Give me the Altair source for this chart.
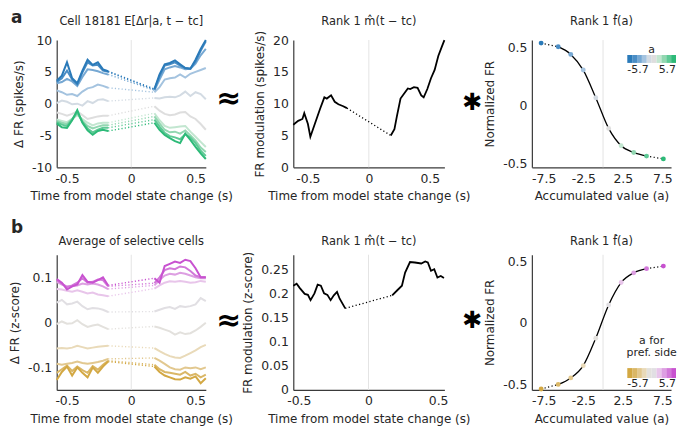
import altair as alt
import pandas as pd

FONT = "DejaVu Sans"
INK = "#262626"
X_TITLE = "Time from model state change (s)"

# ---------------- colours (10 bins of a) ----------------
BLUE_GREEN = ["#2a7ab9", "#4a8dc5", "#76a8d3", "#a4c3df", "#d3dbe3",
              "#dedede", "#c2e6d0", "#92d7b1", "#5ec995", "#2dba78"]
TAN_MAGENTA = ["#d3a843", "#dab766", "#e2c88f", "#e9dab9", "#e3e1dd",
               "#e1dfe3", "#e8c5ea", "#dd9fe2", "#d278d9", "#c852d0"]

# ---------------- panel a1: cell 18181 ----------------
A1_T_LEFT = [-0.58, -0.54, -0.50, -0.46, -0.42, -0.38, -0.34, -0.30, -0.26, -0.22, -0.18]
A1_T_RIGHT = [0.18, 0.22, 0.26, 0.30, 0.34, 0.38, 0.42, 0.46, 0.50, 0.54, 0.58]
A1_LEFT = [
    [3.6, 4.4, 6.5, 4.0, 3.2, 5.2, 6.9, 6.1, 6.5, 5.4, 5.1],
    [3.4, 4.0, 5.2, 3.8, 3.0, 4.9, 6.5, 6.0, 6.1, 5.2, 5.0],
    [3.2, 3.4, 3.9, 3.5, 2.8, 4.2, 5.4, 5.3, 5.1, 4.8, 4.6],
    [2.1, 1.8, 1.4, 1.5, 1.2, 1.9, 2.4, 2.6, 3.0, 2.8, 2.5],
    [0.1, 0.5, 0.3, -0.1, 0.0, -0.3, 0.4, 0.1, 0.6, 0.7, 0.4],
    [-1.4, -1.6, -1.9, -1.6, -1.2, -1.8, -2.4, -2.2, -2.0, -1.9, -1.9],
    [-2.5, -2.7, -2.9, -2.4, -1.8, -2.4, -3.0, -3.4, -3.1, -3.0, -3.0],
    [-2.7, -3.0, -3.2, -2.4, -1.5, -2.7, -3.5, -3.9, -3.6, -3.4, -3.4],
    [-2.9, -3.3, -3.5, -2.5, -1.3, -2.9, -3.9, -4.5, -4.1, -3.8, -3.8],
    [-3.1, -3.7, -3.8, -2.6, -1.0, -3.0, -4.2, -4.9, -4.3, -4.1, -4.3],
]
A1_RIGHT = [
    [2.3, 4.6, 6.2, 6.4, 6.8, 6.2, 5.6, 5.5, 6.9, 8.6, 10.0],
    [2.2, 4.3, 6.0, 6.2, 6.5, 6.0, 5.6, 5.5, 6.6, 8.3, 9.8],
    [2.1, 3.8, 5.4, 5.7, 5.9, 5.7, 5.4, 5.5, 6.3, 7.6, 8.6],
    [1.8, 2.6, 3.8, 4.0, 4.1, 4.6, 4.1, 4.7, 5.0, 5.3, 5.6],
    [0.9, 0.8, 1.0, 1.1, 1.0, 1.3, 1.9, 1.2, 1.8, 1.5, 0.7],
    [-0.4, -1.1, -1.6, -1.8, -1.7, -1.4, -1.3, -2.0, -2.4, -3.2, -4.1],
    [-1.5, -2.6, -3.5, -3.8, -3.7, -3.6, -3.5, -4.4, -5.2, -6.0, -6.8],
    [-2.0, -3.1, -4.1, -4.5, -4.4, -4.7, -4.2, -5.0, -5.8, -6.9, -7.6],
    [-2.5, -3.6, -4.6, -5.1, -5.3, -5.6, -4.8, -5.3, -6.2, -7.4, -8.2],
    [-3.0, -4.1, -4.9, -5.4, -5.9, -6.2, -4.7, -5.7, -6.8, -7.8, -8.7],
]

# ---------------- panel a2: rank-1 time course ----------------
A2_T_LEFT = [-0.62, -0.58, -0.545, -0.53, -0.50, -0.48, -0.44, -0.40, -0.365,
             -0.345, -0.31, -0.28, -0.25, -0.21, -0.18]
A2_LEFT = [6.7, 7.3, 7.6, 8.5, 6.8, 4.8, 7.0, 9.2, 11.0, 10.8, 11.3, 10.3, 9.9, 9.6, 9.3]
A2_T_RIGHT = [0.18, 0.21, 0.23, 0.26, 0.29, 0.32, 0.34, 0.37, 0.40, 0.43, 0.45,
              0.48, 0.51, 0.54, 0.57, 0.60, 0.62]
A2_RIGHT = [5.0, 6.0, 8.0, 10.8, 11.6, 12.4, 12.3, 12.6, 12.5, 11.3, 11.0,
            12.3, 14.0, 15.3, 17.5, 19.0, 20.0]

# ---------------- panel a3 / b3: rank-1 tuning ----------------
F_A = [-7.83, -5.67, -4.08, -2.50, -0.92, 0.71, 2.29, 3.88, 5.50, 7.63]
A3_F = [0.534, 0.503, 0.437, 0.303, 0.066, -0.197, -0.345, -0.403, -0.434, -0.458]
B3_F = [-0.537, -0.500, -0.447, -0.347, -0.124, 0.147, 0.329, 0.408, 0.442, 0.463]
CBAR_LABELS = ["-5.7", "5.7"]

# ---------------- panel b1: average of selective cells ----------------
B1_T_LEFT = A1_T_LEFT
B1_T_RIGHT = A1_T_RIGHT
B1_LEFT = [
    [-0.128, -0.110, -0.098, -0.118, -0.100, -0.112, -0.122, -0.100, -0.112, -0.098, -0.087],
    [-0.112, -0.104, -0.096, -0.108, -0.098, -0.106, -0.112, -0.097, -0.105, -0.094, -0.085],
    [-0.092, -0.094, -0.092, -0.090, -0.087, -0.090, -0.092, -0.090, -0.088, -0.085, -0.081],
    [-0.058, -0.057, -0.058, -0.056, -0.052, -0.055, -0.058, -0.056, -0.054, -0.053, -0.052],
    [-0.004, 0.002, -0.003, -0.002, 0.005, -0.004, -0.010, -0.007, -0.005, -0.010, -0.015],
    [0.044, 0.050, 0.040, 0.042, 0.046, 0.036, 0.029, 0.032, 0.031, 0.028, 0.023],
    [0.074, 0.073, 0.070, 0.068, 0.071, 0.068, 0.064, 0.066, 0.062, 0.060, 0.058],
    [0.090, 0.084, 0.080, 0.080, 0.082, 0.086, 0.084, 0.086, 0.084, 0.080, 0.074],
    [0.094, 0.086, 0.078, 0.082, 0.088, 0.098, 0.088, 0.090, 0.095, 0.094, 0.080],
    [0.096, 0.088, 0.073, 0.080, 0.084, 0.105, 0.090, 0.088, 0.094, 0.100, 0.082],
]
B1_RIGHT = [
    [-0.098, -0.110, -0.118, -0.122, -0.126, -0.127, -0.122, -0.125, -0.120, -0.135, -0.124],
    [-0.094, -0.104, -0.110, -0.112, -0.114, -0.116, -0.110, -0.118, -0.114, -0.122, -0.116],
    [-0.079, -0.085, -0.092, -0.100, -0.104, -0.105, -0.100, -0.102, -0.100, -0.104, -0.100],
    [-0.057, -0.064, -0.070, -0.075, -0.078, -0.079, -0.074, -0.068, -0.062, -0.055, -0.050],
    [-0.009, -0.012, -0.016, -0.020, -0.027, -0.022, -0.026, -0.024, -0.018, -0.010, -0.001],
    [0.024, 0.028, 0.032, 0.034, 0.030, 0.036, 0.034, 0.036, 0.040, 0.054, 0.047],
    [0.075, 0.082, 0.088, 0.091, 0.090, 0.092, 0.090, 0.088, 0.089, 0.092, 0.090],
    [0.082, 0.094, 0.104, 0.108, 0.106, 0.110, 0.108, 0.104, 0.100, 0.098, 0.098],
    [0.087, 0.100, 0.116, 0.120, 0.118, 0.124, 0.122, 0.114, 0.104, 0.100, 0.100],
    [0.098, 0.088, 0.125, 0.130, 0.135, 0.132, 0.139, 0.136, 0.120, 0.100, 0.100],
]

# ---------------- panel b2: rank-1 time course (z-score) ----------------
B2_T_LEFT = [-0.54, -0.516, -0.493, -0.458, -0.435, -0.416, -0.388, -0.365, -0.342,
             -0.319, -0.295, -0.272, -0.249, -0.226, -0.207, -0.167]
B2_LEFT = [0.216, 0.220, 0.211, 0.199, 0.197, 0.186, 0.200, 0.218, 0.216,
           0.200, 0.197, 0.186, 0.196, 0.203, 0.189, 0.169]
B2_T_RIGHT = [0.17, 0.205, 0.24, 0.263, 0.298, 0.333, 0.379, 0.407, 0.426,
              0.449, 0.472, 0.495, 0.519, 0.542]
B2_RIGHT = [0.196, 0.206, 0.216, 0.243, 0.265, 0.264, 0.262, 0.266, 0.264,
            0.247, 0.250, 0.233, 0.236, 0.232]


# ================= helpers =================
def num_axis(values, title):
    return alt.Axis(values=values, title=title, format=".3~r",
                    labelExpr="replace(datum.label, '\u2212', '-')")


def text_layer(txt, x, y, **kw):
    style = dict(font=FONT, color=INK)
    style.update(kw)
    return alt.Chart(pd.DataFrame({"txt": [txt]})).mark_text(**style).encode(
        text="txt:N", x=alt.value(x), y=alt.value(y))


def traces_panel(t_left, t_right, left, right, colors, field, xdom, ydom, yvals, ytitle,
                 title, title_y, letter, letter_y, w, h):
    order = [4, 5, 3, 6, 2, 7, 1, 8, 0, 9]
    solid, dots = [], []
    for i in order:
        for t, v in zip(t_left, left[i]):
            solid.append({field: i, "seg": f"{i}L", "t": t, "v": v})
        for t, v in zip(t_right, right[i]):
            solid.append({field: i, "seg": f"{i}R", "t": t, "v": v})
        dots.append({field: i, "t": t_left[-1], "v": left[i][-1]})
        dots.append({field: i, "t": t_right[0], "v": right[i][0]})
    solid = pd.DataFrame(solid)
    dots = pd.DataFrame(dots)
    x = alt.X("t:Q", scale=alt.Scale(domain=xdom, nice=False, zero=False),
              axis=num_axis([-0.5, 0, 0.5], X_TITLE))
    y = alt.Y("v:Q", scale=alt.Scale(domain=ydom, nice=False, zero=False),
              axis=num_axis(yvals, ytitle))
    color = alt.Color(f"{field}:N", scale=alt.Scale(domain=list(range(10)), range=colors),
                      legend=None)
    zero = alt.Chart(pd.DataFrame({"t": [0.0]})).mark_rule(
        color="#e4e4e4", strokeWidth=1).encode(x=x)
    lines = alt.Chart(solid).mark_line(strokeWidth=2).encode(
        x=x, y=y, color=color, detail="seg:N")
    dotted = alt.Chart(dots).mark_line(strokeWidth=1.4, strokeDash=[1.2, 2.2]).encode(
        x=x, y=y, color=color, detail=f"{field}:N")
    return alt.layer(
        zero, dotted, lines,
        text_layer(title, w / 2, title_y, fontSize=11.5, align="center", baseline="middle"),
        text_layer(letter, -46, letter_y, fontSize=17, fontWeight="bold",
                   align="left", baseline="middle"),
    ).properties(width=w, height=h)


def rank_time_panel(t_left, left, t_right, right, xdom, ydom, yvals, ytitle,
                    title, title_y, approx_y, w, h):
    rows = [{"seg": "L", "t": t, "v": v} for t, v in zip(t_left, left)]
    rows += [{"seg": "R", "t": t, "v": v} for t, v in zip(t_right, right)]
    solid = pd.DataFrame(rows)
    dots = pd.DataFrame({"t": [t_left[-1], t_right[0]], "v": [left[-1], right[0]]})
    x = alt.X("t:Q", scale=alt.Scale(domain=xdom, nice=False, zero=False),
              axis=num_axis([-0.5, 0, 0.5], X_TITLE))
    y = alt.Y("v:Q", scale=alt.Scale(domain=ydom, nice=False, zero=False),
              axis=num_axis(yvals, ytitle))
    zero = alt.Chart(pd.DataFrame({"t": [0.0]})).mark_rule(
        color="#e4e4e4", strokeWidth=1).encode(x=x)
    line = alt.Chart(solid).mark_line(color="black", strokeWidth=1.8).encode(
        x=x, y=y, detail="seg:N")
    dotted = alt.Chart(dots).mark_line(color="black", strokeWidth=1.3,
                                       strokeDash=[1.2, 2.4]).encode(x=x, y=y)
    return alt.layer(
        zero, dotted, line,
        text_layer(title, w / 2, title_y, fontSize=11.5, align="center", baseline="middle"),
        text_layer("\u2248", -65, approx_y, fontSize=30, fontWeight="bold",
                   align="center", baseline="middle", color="black"),
    ).properties(width=w, height=h)


def tuning_panel(fvals, colors, field, ydom, title, title_y, star_y, cbar_titles,
                 cbar_y, lab_y, w, h):
    n = len(F_A)
    pts = pd.DataFrame({field: list(range(n)), "a": F_A, "f": fvals})
    mid = pts.iloc[1:n - 1]
    ends = pd.concat([pts.iloc[0:2].assign(seg="lo"), pts.iloc[n - 2:n].assign(seg="hi")])
    x = alt.X("a:Q", scale=alt.Scale(domain=[-9, 8.6], nice=False, zero=False),
              axis=num_axis([-7.5, -2.5, 2.5, 7.5], "Accumulated value (a)"))
    y = alt.Y("f:Q", scale=alt.Scale(domain=ydom, nice=False, zero=False),
              axis=num_axis([-0.5, 0, 0.5], "Normalized FR"))
    color = alt.Color(f"{field}:N", scale=alt.Scale(domain=list(range(10)), range=colors),
                      legend=None)
    zero = alt.Chart(pd.DataFrame({"a": [0.0]})).mark_rule(
        color="#e4e4e4", strokeWidth=1).encode(x=x)
    line = alt.Chart(mid).mark_line(color="black", strokeWidth=1.3,
                                    interpolate="monotone").encode(x=x, y=y)
    dotted = alt.Chart(ends).mark_line(color="black", strokeWidth=1.2,
                                       strokeDash=[1.2, 2.4]).encode(x=x, y=y, detail="seg:N")
    points = alt.Chart(pts).mark_circle(size=24, opacity=1).encode(x=x, y=y, color=color)
    main = alt.layer(
        zero, dotted, line, points,
        text_layer(title, w / 2, title_y, fontSize=11.5, align="center", baseline="middle"),
        text_layer("\u2731", -60, star_y, fontSize=24, align="center",
                   baseline="middle", color="black"),
    )
    # colour bar
    cb = pd.DataFrame({field: list(range(10)), "k": list(range(10)),
                       "k2": list(range(1, 11))})
    cbx = alt.X("k:Q", scale=alt.Scale(domain=[0, 10], range=[96, 145], nice=False,
                                       zero=False), axis=None)
    rect = alt.Chart(cb).mark_rect().encode(
        x=cbx, x2="k2:Q", y=alt.value(cbar_y[0]), y2=alt.value(cbar_y[1]), color=color)
    lab_lo = alt.Chart(pd.DataFrame({"k": [0], "lab": [CBAR_LABELS[0]]})).mark_text(
        font=FONT, fontSize=11, color=INK, align="left", baseline="middle").encode(
        x=cbx, y=alt.value(lab_y), text="lab:N")
    lab_hi = alt.Chart(pd.DataFrame({"k": [10], "lab": [CBAR_LABELS[1]]})).mark_text(
        font=FONT, fontSize=11, color=INK, align="right", baseline="middle").encode(
        x=cbx, y=alt.value(lab_y), text="lab:N")
    layers = [rect, lab_lo, lab_hi]
    for txt, ty in cbar_titles:
        layers.append(alt.Chart(pd.DataFrame({"k": [5], "lab": [txt]})).mark_text(
            font=FONT, fontSize=11, color=INK, align="center", baseline="middle").encode(
            x=cbx, y=alt.value(ty), text="lab:N"))
    cbar = alt.layer(*layers)
    return alt.layer(main, cbar).resolve_scale(x="independent").properties(width=w, height=h)


HA, HB = 128, 136
a1 = traces_panel(A1_T_LEFT, A1_T_RIGHT, A1_LEFT, A1_RIGHT, BLUE_GREEN, "sa", [-0.58, 0.58],
                  [-10, 10], [-10, -5, 0, 5, 10], "\u0394 FR (spikes/s)",
                  "Cell 18181 E[\u0394r|a, t \u2212 tc]", -18, "a", -22, 150, HA)
a2 = rank_time_panel(A2_T_LEFT, A2_LEFT, A2_T_RIGHT, A2_RIGHT, [-0.62, 0.62], [0, 20],
                     [0, 5, 10, 15, 20], "FR modulation (spikes/s)",
                     "Rank 1 m\u0302(t \u2212 tc)", -18, 59, 152, HA)
a3 = tuning_panel(A3_F, BLUE_GREEN, "sa", [-0.53, 0.56], "Rank 1 f\u0302(a)", -18, 63,
                  [("a", 10)], (15, 23), 30, 140, HA)
b1 = traces_panel(B1_T_LEFT, B1_T_RIGHT, B1_LEFT, B1_RIGHT, TAN_MAGENTA, "sb", [-0.58, 0.58],
                  [-0.15, 0.15], [-0.1, 0, 0.1], "\u0394 FR (z-score)",
                  "Average of selective cells", -13, "b", -27, 150, HB)
b2 = rank_time_panel(B2_T_LEFT, B2_LEFT, B2_T_RIGHT, B2_RIGHT, [-0.54, 0.545], [0, 0.28],
                     [0, 0.05, 0.1, 0.15, 0.2, 0.25], "FR modulation (z-score)",
                     "Rank 1 m\u0302(t \u2212 tc)", -13, 67, 152, HB)
b3 = tuning_panel(B3_F, TAN_MAGENTA, "sb", [-0.545, 0.555], "Rank 1 f\u0302(a)", -13, 67,
                  [("a for", 87), ("pref. side", 99)], (114, 124), 130, 140, HB)

chart = alt.concat(a1, a2, a3, b1, b2, b3, columns=3, spacing=88, bounds="flush",
                   align="each").resolve_scale(color="independent").properties(
    padding=0).configure_view(stroke=None).configure_axis(
    labelFont=FONT, titleFont=FONT, labelFontSize=12.5, titleFontSize=12,
    titleFontWeight="normal", labelColor=INK, titleColor=INK, domainColor="#3a3a3a",
    domainWidth=1.2, ticks=False, grid=False, labelPadding=5, titlePadding=6)

chart.save("out.html", embed_options={"renderer": "svg", "actions": False})
